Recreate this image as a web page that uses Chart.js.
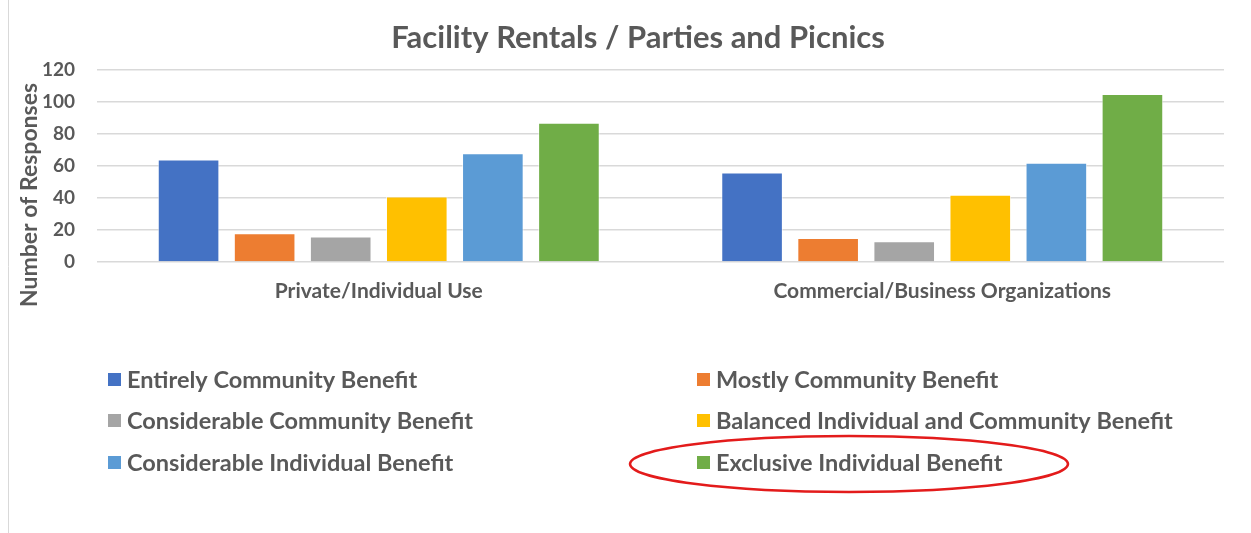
<!DOCTYPE html>
<html>
<head>
<meta charset="utf-8">
<script src="https://cdn.jsdelivr.net/npm/chart.js@4/dist/chart.umd.min.js"></script>
<style>
  html, body { margin: 0; padding: 0; background: #fff; }
  #wrap { width: 1251px; height: 533px; position: relative; }
</style>
</head>
<body>
<div id="wrap"><canvas id="barChart"></canvas></div>
<script>
    "use strict";

    var chartTitle = "Facility Rentals / Parties and Picnics";
    var yTitle = "Number of Responses";
    var categories = [ "Private/Individual Use", "Commercial/Business Organizations" ];
    var seriesNames = [
        "Entirely Community Benefit",
        "Mostly Community Benefit",
        "Considerable Community Benefit",
        "Balanced Individual and Community Benefit",
        "Considerable Individual Benefit",
        "Exclusive Individual Benefit"
    ];
    var entirelyCommunity = [ 64, 56 ];
    var mostlyCommunity = [ 18, 15 ];
    var considerableCommunity = [ 16, 13 ];
    var balanced = [ 41, 42 ];
    var considerableIndividual = [ 68, 62 ];
    var exclusiveIndividual = [ 87, 105 ];
    var yTicks = [ 0, 20, 40, 60, 80, 100, 120 ];

    var colors = [ "#4472C4", "#ED7D31", "#A5A5A5", "#FFC000", "#5B9BD5", "#70AD47" ];
    var values = [ entirelyCommunity, mostlyCommunity, considerableCommunity, balanced, considerableIndividual, exclusiveIndividual ];
    var textColor = "#595959";
    var fontFamily = "Lato, 'Open Sans', sans-serif";

    var datasets = seriesNames.map(function ( name, i ) {
        return {
            label: name,
            data: values[ i ],
            backgroundColor: colors[ i ],
            borderColor: "rgba(255,255,255,0.6)",
            borderWidth: 1,
            categoryPercentage: 0.81,
            barPercentage: 0.81
        };
    });

    // title, y title, legend (2 columns), red ellipse, frame line
    var extras = {
        id: "extras",
        afterDraw: function ( chart ) {
            var c = chart.ctx;
            c.save();
            // left frame line
            c.strokeStyle = "#d9d9d9";
            c.lineWidth = 1;
            c.beginPath();
            c.moveTo( 8.5, 0 );
            c.lineTo( 8.5, 533 );
            c.stroke();

            // chart title
            c.fillStyle = textColor;
            c.font = "bold 31px " + fontFamily;
            c.textAlign = "center";
            c.textBaseline = "middle";
            c.fillText( chartTitle, 638, 38 );

            // y axis title
            c.font = "bold 23px " + fontFamily;
            c.translate( 30, 195 );
            c.rotate( -Math.PI / 2 );
            c.fillText( yTitle, 0, 0 );
            c.setTransform( 1, 0, 0, 1, 0, 0 );

            // legend
            var colX = [ 108, 697 ];
            var rowY = [ 380, 421, 463 ];
            c.font = "bold 23.5px " + fontFamily;
            c.textAlign = "left";
            chart.data.datasets.forEach(function ( ds, i ) {
                var x = colX[ i % 2 ];
                var y = rowY[ Math.floor( i / 2 ) ];
                c.fillStyle = ds.backgroundColor;
                c.fillRect( x, y - 7, 13, 13 );
                c.fillStyle = textColor;
                c.fillText( ds.label, x + 19, y );
            });

            // red ellipse around the last entry
            c.strokeStyle = "#E31B1B";
            c.lineWidth = 2.5;
            c.beginPath();
            c.ellipse( 849, 464, 219, 28, 0, 0, Math.PI * 2 );
            c.stroke();
            c.restore();
        }
    };

    var ctx = document.getElementById( "barChart" );
    var myChart = new Chart( ctx, {
        type: "bar",
        data: {
            labels: categories,
            datasets: datasets
        },
        plugins: [ extras ],
        options: {
            responsive: true,
            maintainAspectRatio: false,
            animation: false,
            layout: {
                padding: { left: 0, right: 27, top: 70, bottom: 0 }
            },
            plugins: {
                legend: { display: false },
                tooltip: { enabled: false },
                title: { display: false }
            },
            scales: {
                x: {
                    grid: { display: false, drawTicks: false },
                    border: { display: false },
                    ticks: {
                        color: textColor,
                        font: { family: fontFamily, size: 21, weight: "bold" },
                        padding: 17
                    },
                    afterFit: function ( scale ) {
                        scale.height = 271;
                    }
                },
                y: {
                    min: 0,
                    max: 120,
                    afterBuildTicks: function ( scale ) {
                        scale.ticks = yTicks.map(function ( v ) { return { value: v }; });
                    },
                    grid: { color: "#d9d9d9", lineWidth: 1.5, drawTicks: false },
                    border: { display: false },
                    ticks: {
                        color: textColor,
                        font: { family: fontFamily, size: 19, weight: "bold" },
                        padding: 22
                    },
                    afterFit: function ( scale ) {
                        scale.width = 97;
                    }
                }
            }
        }
    });
</script>
</body>
</html>
